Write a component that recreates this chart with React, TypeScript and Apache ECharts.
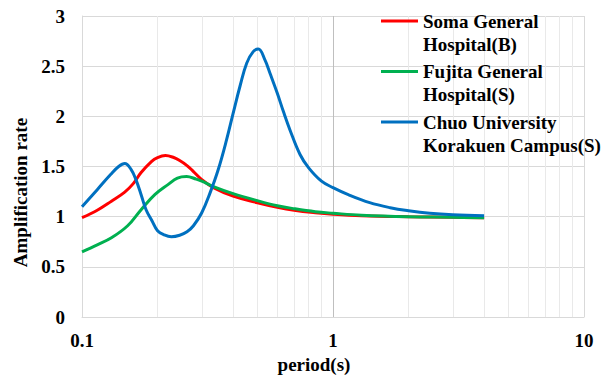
import React, { useEffect, useRef } from 'react';
import * as echarts from 'echarts';

const FONT = "'Liberation Serif', 'Times New Roman', serif";

const seriesNames = [
  'Soma General\nHospital(B)',
  'Fujita General\nHospital(S)',
  'Chuo University\nKorakuen Campus(S)',
];
const seriesColors = ['#FF0000', '#00B050', '#0070C0'];

const somaPeriods = [0.1, 0.115, 0.131, 0.148, 0.16, 0.172, 0.189, 0.2, 0.215, 0.232, 0.245, 0.262, 0.278, 0.3, 0.334, 0.4, 0.5, 0.6, 0.7, 0.85, 1, 1.3, 2, 3, 4];
const somaValues = [0.99, 1.065, 1.155, 1.245, 1.33, 1.44, 1.55, 1.59, 1.61, 1.59, 1.56, 1.51, 1.45, 1.37, 1.29, 1.205, 1.14, 1.095, 1.065, 1.04, 1.025, 1.01, 1.0, 0.995, 0.99];

const fujitaPeriods = [0.1, 0.115, 0.131, 0.152, 0.172, 0.195, 0.22, 0.24, 0.261, 0.285, 0.3, 0.334, 0.4, 0.5, 0.6, 0.7, 0.85, 1, 1.3, 2, 3, 4];
const fujitaValues = [0.65, 0.72, 0.79, 0.91, 1.07, 1.22, 1.32, 1.385, 1.4, 1.375, 1.355, 1.3, 1.23, 1.16, 1.11, 1.08, 1.05, 1.035, 1.015, 1.0, 0.995, 0.99];

const chuoPeriods = [0.1, 0.115, 0.13, 0.14, 0.148, 0.157, 0.164, 0.172, 0.18, 0.19, 0.2, 0.212, 0.227, 0.245, 0.262, 0.278, 0.3, 0.324, 0.349, 0.377, 0.4, 0.426, 0.453, 0.481, 0.504, 0.536, 0.561, 0.6, 0.634, 0.675, 0.739, 0.8, 0.9, 1, 1.15, 1.4, 1.69, 2, 2.43, 3, 4];
const chuoValues = [1.1, 1.27, 1.42, 1.5, 1.53, 1.47, 1.37, 1.22, 1.07, 0.96, 0.86, 0.82, 0.8, 0.815, 0.85, 0.91, 1.04, 1.24, 1.47, 1.77, 2.03, 2.3, 2.53, 2.645, 2.67, 2.56, 2.43, 2.23, 2.05, 1.86, 1.62, 1.487, 1.354, 1.29, 1.22, 1.14, 1.09, 1.06, 1.035, 1.02, 1.01];

const minorGridPeriods = [0.2, 0.3, 0.4, 0.5, 0.6, 0.7, 0.8, 0.9, 2, 3, 4, 5, 6, 7, 8, 9];

const xMin = 0.1;
const xMax = 10;
const yMin = 0;
const yMax = 3;
const yInterval = 0.5;

export default function App() {
  const ref = useRef<HTMLDivElement>(null);
  useEffect(() => {
    const chart = echarts.init(ref.current!, null, { renderer: 'svg' });
    const pair = (p: number[], v: number[]) => p.map((x, i) => [x, v[i]]);
    const dataSets = [
      pair(somaPeriods, somaValues),
      pair(fujitaPeriods, fujitaValues),
      pair(chuoPeriods, chuoValues),
    ];
    const textBase = { fontFamily: FONT, fontWeight: 'bold' as const, color: '#000', fontSize: 19 };
    chart.setOption({
      animation: false,
      backgroundColor: '#ffffff',
      grid: { left: 82, right: 22, top: 16, bottom: 61 },
      legend: {
        data: seriesNames,
        orient: 'vertical',
        left: 381,
        top: 9.5,
        padding: 0,
        itemGap: 4.5,
        itemWidth: 37,
        itemHeight: 26,
        icon: 'path://M0,0H37V3H0Z M0,26L37,26',
        itemStyle: { borderWidth: 0 },
        selectedMode: false,
        textStyle: { ...textBase, lineHeight: 23 },
      },
      xAxis: {
        type: 'log',
        logBase: 10,
        min: xMin,
        max: xMax,
        name: 'period(s)',
        nameLocation: 'middle',
        nameGap: 37,
        nameTextStyle: { ...textBase, padding: [0, 38, 0, 0] },
        axisLine: { show: true, onZero: false, lineStyle: { color: '#D9D9D9', width: 1 } },
        axisTick: { show: false },
        axisLabel: { ...textBase, margin: 14 },
        splitLine: { show: true, lineStyle: { color: ['#D9D9D9', '#BFBFBF', '#D9D9D9'], width: 1 } },
      },
      yAxis: {
        type: 'value',
        min: yMin,
        max: yMax,
        interval: yInterval,
        name: 'Amplification rate',
        nameLocation: 'middle',
        nameGap: 50,
        nameTextStyle: { ...textBase, padding: [0, 52, 0, 0] },
        axisLine: { show: true, lineStyle: { color: '#D9D9D9', width: 1 } },
        axisTick: { show: false },
        axisLabel: { ...textBase, margin: 17 },
        splitLine: { show: true, lineStyle: { color: '#D9D9D9', width: 1 } },
      },
      series: [
        {
          name: 'minor-grid',
          type: 'line',
          data: [],
          silent: true,
          z: 1,
          markLine: {
            silent: true,
            z: 1,
            symbol: ['none', 'none'],
            label: { show: false },
            emphasis: { disabled: true },
            lineStyle: { color: '#E9E9E9', width: 1, type: 'solid' },
            data: minorGridPeriods.map((x) => ({ xAxis: x })),
          },
        },
        ...seriesNames.map((name, i) => ({
          name,
          type: 'line',
          data: dataSets[i],
          smooth: 0.4,
          showSymbol: false,
          symbol: 'none',
          color: seriesColors[i],
          itemStyle: { color: seriesColors[i] },
          lineStyle: { color: seriesColors[i], width: 3 },
          emphasis: { disabled: true },
          z: 3 + i,
        })),
      ],
    });
    return () => chart.dispose();
  }, []);
  return (
    <div
      ref={ref}
      style={{ position: 'fixed', left: 0, top: 0, width: 606, height: 379 }}
    />
  );
}
